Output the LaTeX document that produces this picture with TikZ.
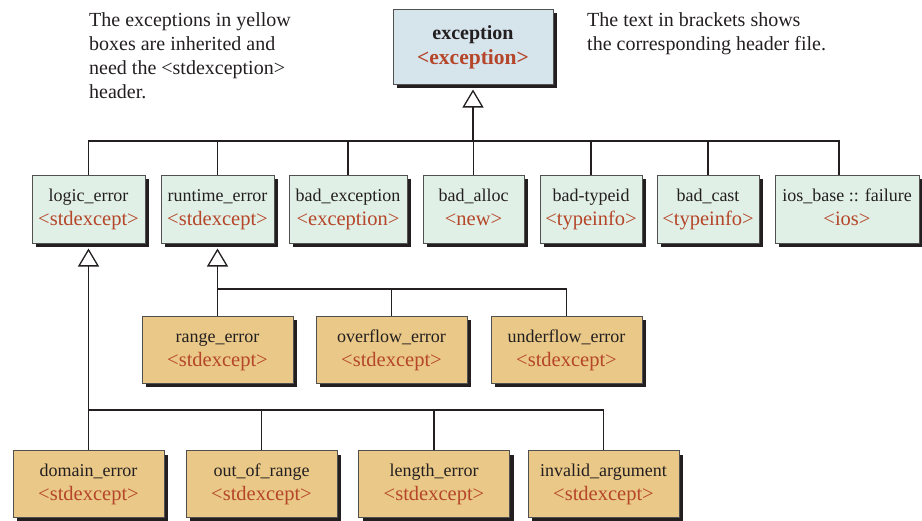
\documentclass[tikz,border=0pt]{standalone}
\usepackage{fontspec}
\setmainfont{Liberation Serif}
\usetikzlibrary{shadows,arrows.meta}

\definecolor{inkc}{HTML}{231F20}
\definecolor{hdrc}{HTML}{B5462A}
\definecolor{rootfill}{HTML}{D6E4EC}
\definecolor{stdfill}{HTML}{E1F0E6}
\definecolor{derfill}{HTML}{EAC887}
\definecolor{edgec}{HTML}{505050}

\tikzset{
  cls/.style={draw=edgec, line width=1pt, align=center, inner sep=0pt,
    font=\fontsize{18}{24}\selectfont, text=inkc,
    drop shadow={shadow xshift=4pt, shadow yshift=-4pt, opacity=1, fill=inkc}},
  rootbox/.style={cls, fill=rootfill, minimum width=160pt, minimum height=75pt,
    font=\fontsize{20}{25}\selectfont\bfseries},
  stdbox/.style={cls, fill=stdfill, minimum height=68pt},
  derbox/.style={cls, fill=derfill, minimum width=151pt, minimum height=67pt},
  link/.style={draw=inkc, line width=1.3pt},
  inh/.style={link, -{Triangle[open, length=18pt, width=21pt, line width=1.3pt]}, shorten >=5pt},
  note/.style={align=left, anchor=north west, inner sep=0pt,
    font=\fontsize{20}{24}\selectfont, text=inkc}
}
% class name over its header file; struts keep both lines at fixed heights
\newcommand{\klass}[2]{\strut #1\\{\fontsize{20.5}{24}\selectfont\strut\textcolor{hdrc}{<#2>}}}
\newcommand{\rootklass}[2]{\strut #1\\{\fontsize{21.5}{25}\selectfont\strut\textcolor{hdrc}{<#2>}}}

\begin{document}
\begin{tikzpicture}[x=1pt, y=-1pt]
\useasboundingbox (0,0) rectangle (922,520);

% explanatory notes
\node[note] (noteL) at (89,12) {The exceptions in yellow\\boxes are inherited and\\need the <stdexception>\\header.};
\node[note] (noteR) at (587,12) {The text in brackets shows\\the corresponding header file.};

% root class
\node[rootbox] (exc) at (473,46.5) {\rootklass{exception}{exception}};

% standard exceptions
\node[stdbox, minimum width=113pt] (logic)     at (88.5,209)  {\klass{logic\_error}{stdexcept}};
\node[stdbox, minimum width=113pt] (runtime)   at (217.5,209) {\klass{runtime\_error}{stdexcept}};
\node[stdbox, minimum width=118pt] (badexc)    at (348,209)   {\klass{bad\_exception}{exception}};
\node[stdbox, minimum width=101pt] (badalloc)  at (473.5,209) {\klass{bad\_alloc}{new}};
\node[stdbox, minimum width=102pt] (badtype)   at (591,209)   {\klass{bad-typeid}{typeinfo}};
\node[stdbox, minimum width=102pt] (badcast)   at (708,209)   {\klass{bad\_cast}{typeinfo}};
\node[stdbox, minimum width=144pt] (ios)       at (847,209)   {\klass{ios\_base :: failure}{ios}};

% runtime_error subclasses
\node[derbox] (range)     at (217.5,349.5) {\klass{range\_error}{stdexcept}};
\node[derbox] (overflow)  at (391.5,349.5) {\klass{overflow\_error}{stdexcept}};
\node[derbox] (underflow) at (566.5,349.5) {\klass{underflow\_error}{stdexcept}};

% logic_error subclasses
\node[derbox] (domain)  at (88.5,484)  {\klass{domain\_error}{stdexcept}};
\node[derbox] (outrng)  at (261.5,484) {\klass{out\_of\_range}{stdexcept}};
\node[derbox] (length)  at (434,484)   {\klass{length\_error}{stdexcept}};
\node[derbox] (invarg)  at (603.5,484) {\klass{invalid\_argument}{stdexcept}};

% junctions of the inheritance buses
\coordinate (busA) at (473,141);
\coordinate (busB) at (217.5,289);
\coordinate (busC) at (88.5,410);

% exception hierarchy
\draw[inh] (busA) -- (exc.south);
\foreach \n in {logic,runtime,badexc,badalloc,badtype,badcast}
  \draw[link] (\n.north) |- (busA);
\draw[link] ([xshift=-8pt]ios.north) |- (busA);

% runtime_error hierarchy
\draw[inh] (busB) -- (runtime.south);
\foreach \n in {range,overflow,underflow}
  \draw[link] (\n.north) |- (busB);

% logic_error hierarchy
\draw[inh] (busC) -- (logic.south);
\foreach \n in {domain,outrng,length,invarg}
  \draw[link] (\n.north) |- (busC);
\end{tikzpicture}
\end{document}
